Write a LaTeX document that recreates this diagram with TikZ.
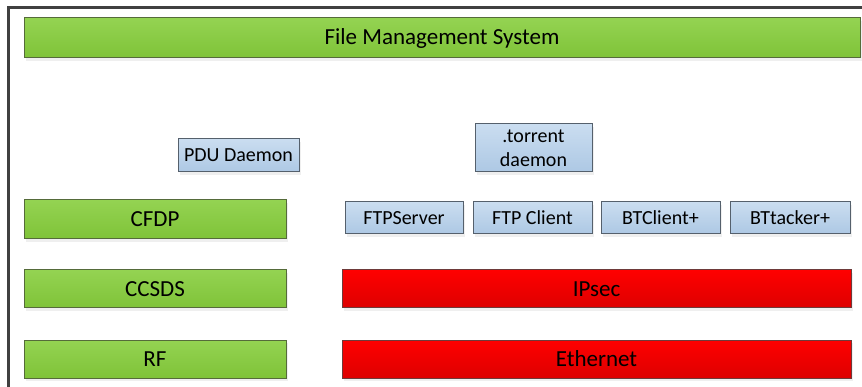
\documentclass[tikz,border=0pt]{standalone}
\usepackage{fontspec}
\setmainfont{Carlito}
\usetikzlibrary{shadows}
\definecolor{gtop}{HTML}{94D352}
\definecolor{gbot}{HTML}{7FC338}
\definecolor{gline}{HTML}{556B3A}
\definecolor{btop}{HTML}{CADDF0}
\definecolor{bbot}{HTML}{ADC8E4}
\definecolor{bline}{HTML}{55606C}
\definecolor{rtop}{HTML}{FF0000}
\definecolor{rbot}{HTML}{DD0000}
\definecolor{rline}{HTML}{6E3A3A}
\definecolor{frame}{HTML}{404040}
\tikzset{
  base/.style={rectangle, inner sep=0pt, outer sep=0pt, line width=1pt,
    drop shadow={shadow xshift=2pt, shadow yshift=-3pt, fill=black!12}},
  greenbox/.style={base, draw=gline, top color=gtop, bottom color=gbot, font=\fontsize{23}{27}\selectfont},
  bluebox/.style={base, draw=bline, top color=btop, bottom color=bbot, font=\fontsize{20}{24}\selectfont, align=center},
  redbox/.style={base, draw=rline, top color=rtop, bottom color=rbot, font=\fontsize{23}{27}\selectfont},
}
\begin{document}
\begin{tikzpicture}[x=1pt,y=-1pt]
\useasboundingbox (0,0) rectangle (862,387);
\fill[white] (0,0) rectangle (862,387);
\draw[frame, line width=2.2pt] (8.5,387) -- (8.5,7.5) -- (862,7.5);
\node[greenbox, minimum width=836pt, minimum height=40pt] (fms) at (442,38) {File Management System};
\node[bluebox, minimum width=121pt, minimum height=33pt] (pdu) at (238.5,155.5) {PDU Daemon};
\node[bluebox, minimum width=117pt, minimum height=48pt] (torrent) at (533.5,148) {.torrent\\daemon};
\node[greenbox, minimum width=262pt, minimum height=39pt] (cfdp) at (155,219.5) {CFDP};
\node[bluebox, minimum width=118pt, minimum height=32pt] (ftps) at (404,218) {FTPServer};
\node[bluebox, minimum width=119pt, minimum height=32pt] (ftpc) at (532.5,218) {FTP Client};
\node[bluebox, minimum width=119pt, minimum height=32pt] (btc) at (660.5,218) {BTClient+};
\node[bluebox, minimum width=120pt, minimum height=32pt] (btt) at (790,218) {BTtacker+};
\node[greenbox, minimum width=262pt, minimum height=38pt] (ccsds) at (155,289) {CCSDS};
\node[greenbox, minimum width=262pt, minimum height=38pt] (rf) at (155,359) {RF};
\node[redbox, minimum width=509pt, minimum height=38pt] (ipsec) at (596.5,289) {IPsec};
\node[redbox, minimum width=509pt, minimum height=38pt] (eth) at (596.5,359) {Ethernet};
\end{tikzpicture}
\end{document}
